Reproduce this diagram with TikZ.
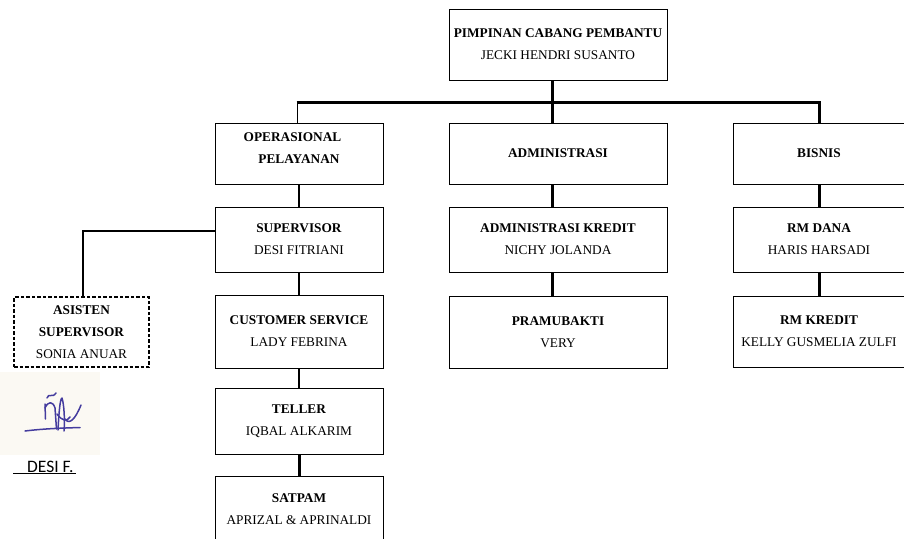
\documentclass[tikz,border=0pt]{standalone}
\usepackage{fontspec}
\setmainfont{Liberation Serif}
\newfontfamily\sigfont{Carlito}
\definecolor{inkblue}{RGB}{68,60,158}
\definecolor{paper}{RGB}{251,249,243}
\begin{document}
\begin{tikzpicture}[x=1pt,y=-1pt,
  box/.style={draw, line width=1pt, align=center, inner sep=0pt,
    font=\fontsize{13.3}{22}\selectfont},
  wide/.style={box, minimum width=218pt},
  mid/.style={box, minimum width=168pt},
  side/.style={box, minimum width=172pt},
  dashbox/.style={box, line width=1.2pt, dash pattern=on 3.5pt off 2pt, minimum width=135pt},
  thickconn/.style={line width=3pt},
  thinconn/.style={line width=1.6pt},
  midconn/.style={line width=2pt},
  ink/.style={draw=inkblue, line width=1.5pt, line cap=round, line join=round}]

\fill[white] (0,0) rectangle (904,538);
\useasboundingbox (0,0) rectangle (904,538);

% head office
\node[wide, minimum height=71pt] (top) at (558,44.5)
  {\textbf{PIMPINAN CABANG PEMBANTU}\\JECKI HENDRI SUSANTO};

% divisions
\node[mid, minimum height=61pt] (ops) at (299,153.5)
  {\raisebox{5pt}[\height][\depth]{\begin{tabular}{@{}c@{}}\textbf{OPERASIONAL}\hspace*{13pt}\\\textbf{PELAYANAN}\end{tabular}}};
\node[wide, minimum height=61pt] (adm) at (558,153.5) {\textbf{ADMINISTRASI}};
\node[side, minimum height=61pt] (bis) at (819,153.5) {\textbf{BISNIS}};

% operasional column
\node[mid, minimum height=65pt] (sup) at (299,239.5) {\textbf{SUPERVISOR}\\DESI FITRIANI};
\node[mid, minimum height=73pt] (cs)  at (299,331.5) {\textbf{CUSTOMER SERVICE}\\LADY FEBRINA};
\node[mid, minimum height=66pt] (tel) at (299,421)   {\textbf{TELLER}\\IQBAL ALKARIM};
\node[mid, minimum height=66pt] (sat) at (299,509)   {\textbf{SATPAM}\\APRIZAL \& APRINALDI};
\node[dashbox, minimum height=70pt] (asi) at (81.5,332)
  {\textbf{ASISTEN}\\\textbf{SUPERVISOR}\\SONIA ANUAR};

% administrasi column
\node[wide, minimum height=65pt] (admk) at (558,239.5) {\textbf{ADMINISTRASI KREDIT}\\NICHY JOLANDA};
\node[wide, minimum height=72pt] (pram) at (558,332)   {\textbf{PRAMUBAKTI}\\VERY};

% bisnis column
\node[side, minimum height=65pt] (rmd) at (819,239.5) {\textbf{RM DANA}\\HARIS HARSADI};
\node[side, minimum height=71pt] (rmk) at (819,331.5) {\textbf{RM KREDIT}\\KELLY GUSMELIA ZULFI};

% connectors
\coordinate (bus) at (0,102);
\draw[thickconn] ([xshift=-6pt]top.south) -- ([xshift=-6pt]adm.north);
\draw[thickconn] ([xshift=-2.3pt]ops.north |- bus) -- (bis.north |- bus) -- (bis.north);
\draw[thinconn] ([xshift=-1.5pt]ops.north) -- ([xshift=-1.5pt]ops.north |- bus);
\draw[thinconn] (ops.south) -- (sup.north);
\draw[thinconn] (sup.south) -- (cs.north);
\draw[thinconn] (cs.south) -- (tel.north);
\draw[thickconn] (tel.south) -- (sat.north);
\draw[midconn] ([yshift=8.5pt]sup.west) -| ([xshift=1.5pt]asi.north);
\draw[thickconn] ([xshift=-6pt]adm.south) -- ([xshift=-6pt]admk.north);
\draw[thickconn] ([xshift=-6pt]admk.south) -- ([xshift=-6pt]pram.north);
\draw[thickconn] (bis.south) -- (rmd.north);
\draw[thickconn] (rmd.south) -- (rmk.north);

% signature
\fill[paper] (0,372) rectangle (100,455);
\draw[ink] (25,431) .. controls (45,428.5) and (65,428) .. (80,427.5);
\draw[ink] (45,404) -- (45.5,419);
\draw[ink] (45,408) .. controls (48,401) and (53,401) .. (55,408) -- (56.5,429);
\draw[ink] (47,398) .. controls (49,392) and (52,399) .. (56,393);
\draw[ink] (58,430) .. controls (59,412) and (60,399) .. (62,398)
  .. controls (64,404) and (65,420) .. (64,431);
\draw[ink] (57,414) .. controls (62,421) and (67,422) .. (70,417);
\draw[ink] (65,419) .. controls (69,425) and (75,420) .. (81,405);
\node[anchor=base west, inner sep=0pt, font=\sigfont\fontsize{17.5}{20}\selectfont] (sign) at (13,472)
  {\underline{\hspace*{14pt}DESI F.\hspace*{2pt}}};
\end{tikzpicture}
\end{document}
